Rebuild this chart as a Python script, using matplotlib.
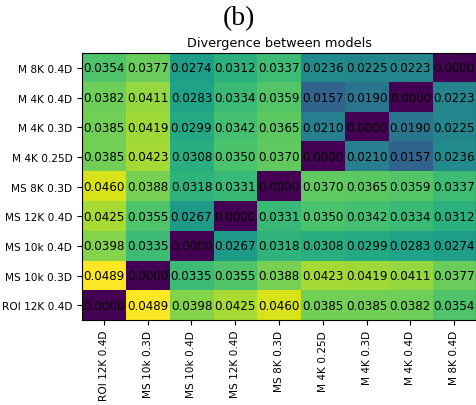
import numpy as np
import matplotlib
matplotlib.use("Agg")
import matplotlib.pyplot as plt

# model names, bottom-to-top on y / left-to-right on x
models = ["ROI 12K 0.4D", "MS 10k 0.3D", "MS 10k 0.4D", "MS 12K 0.4D", "MS 8K 0.3D",
          "M 4K 0.25D", "M 4K 0.3D", "M 4K 0.4D", "M 8K 0.4D"]

# divergence matrix (row i = models[i])
row_roi12 = [0.0000, 0.0489, 0.0398, 0.0425, 0.0460, 0.0385, 0.0385, 0.0382, 0.0354]
row_ms10_03 = [0.0489, 0.0000, 0.0335, 0.0355, 0.0388, 0.0423, 0.0419, 0.0411, 0.0377]
row_ms10_04 = [0.0398, 0.0335, 0.0000, 0.0267, 0.0318, 0.0308, 0.0299, 0.0283, 0.0274]
row_ms12_04 = [0.0425, 0.0355, 0.0267, 0.0000, 0.0331, 0.0350, 0.0342, 0.0334, 0.0312]
row_ms8_03 = [0.0460, 0.0388, 0.0318, 0.0331, 0.0000, 0.0370, 0.0365, 0.0359, 0.0337]
row_m4_025 = [0.0385, 0.0423, 0.0308, 0.0350, 0.0370, 0.0000, 0.0210, 0.0157, 0.0236]
row_m4_03 = [0.0385, 0.0419, 0.0299, 0.0342, 0.0365, 0.0210, 0.0000, 0.0190, 0.0225]
row_m4_04 = [0.0382, 0.0411, 0.0283, 0.0334, 0.0359, 0.0157, 0.0190, 0.0000, 0.0223]
row_m8_04 = [0.0354, 0.0377, 0.0274, 0.0312, 0.0337, 0.0236, 0.0225, 0.0223, 0.0000]

div = np.array([row_roi12, row_ms10_03, row_ms10_04, row_ms12_04, row_ms8_03,
                row_m4_025, row_m4_03, row_m4_04, row_m8_04])

fig = plt.figure(figsize=(4.77, 4.06), dpi=100)
ax = fig.add_axes([0.172, 0.209, 0.826, 0.658])
ax.imshow(div, cmap="viridis", origin="lower", aspect="auto")

n = len(models)
for i in range(n):
    for j in range(n):
        ax.text(j, i, "%.4f" % div[i, j], ha="center", va="center", fontsize=8.6)

ax.set_xticks(np.arange(n))
ax.set_yticks(np.arange(n))
ax.set_xticklabels(models, rotation=90, fontsize=7.6)
ax.set_yticklabels(models, fontsize=7.6)
ax.set_title("Divergence between models", fontsize=9.3, pad=5)

fig.text(0.5, 0.985, "(b)", ha="center", va="top", fontsize=20, family="Liberation Serif")

fig.savefig("out.png", dpi=100)
